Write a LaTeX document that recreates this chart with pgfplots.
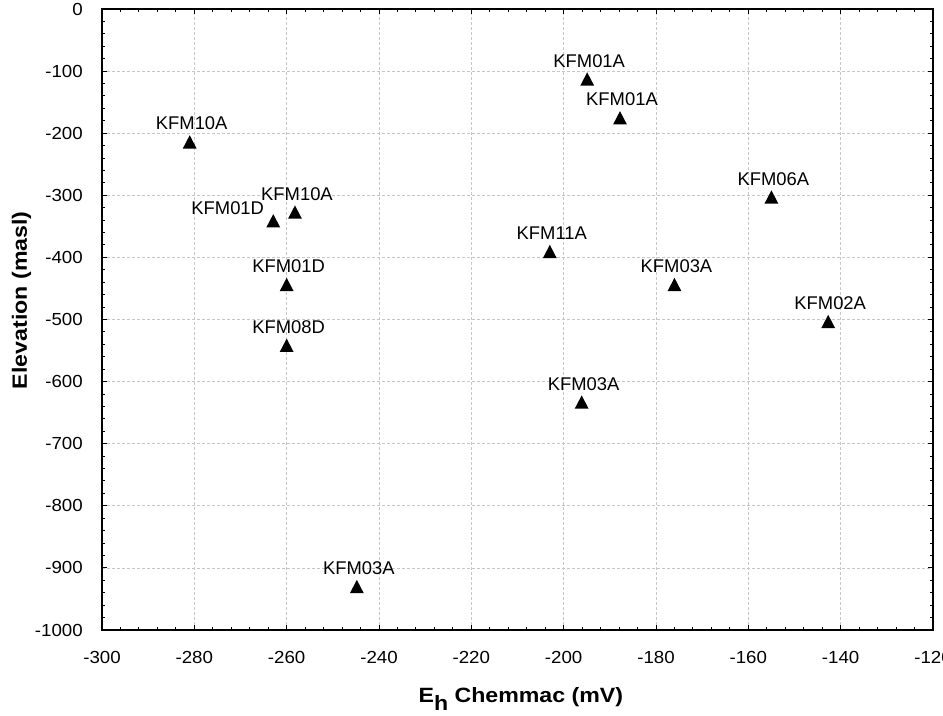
\documentclass[border=0pt]{standalone}
\usepackage{pgfplots}
\pgfplotsset{compat=1.18}
\usepackage{fontspec}
\setmainfont{Liberation Sans}
\newfontfamily\tickfont[FakeStretch=1.07]{Liberation Sans}
\newfontfamily\axlabfont[FakeStretch=1.12]{Liberation Sans}
\pgfdeclareplotmark{tri}{%
  \pgfpathmoveto{\pgfqpoint{0pt}{5.0pt}}%
  \pgfpathlineto{\pgfqpoint{5.2pt}{-5.0pt}}%
  \pgfpathlineto{\pgfqpoint{-5.2pt}{-5.0pt}}%
  \pgfpathclose
  \pgfusepathqfill}
\begin{document}
\begin{tikzpicture}
\begin{axis}[
  name=ax,
  scale only axis,
  width=623.25pt, height=465.75pt,
  xmin=-300, xmax=-120, ymin=-1000, ymax=0,
  xtick={-300,-280,...,-120},
  ytick={-1000,-900,...,0},
  minor x tick num=4, minor y tick num=4,
  tick align=inside,
  major tick length=3.75pt, minor tick length=2.25pt,
  every tick/.style={black, line width=0.75pt},
  axis line style={black, line width=1.1pt},
  grid=major,
  major grid style={gray!45, line width=0.6pt, dash pattern=on 2.25pt off 1.5pt},
  /pgf/number format/assume math mode=true,
  /pgf/number format/1000 sep={},
  tick label style={font=\tickfont\fontsize{13.1}{13.1}\selectfont, inner sep=0pt},
  yticklabel style={anchor=east, xshift=-14.25pt},
  xticklabel style={anchor=north, yshift=-15.75pt},
  xlabel={\axlabfont\bfseries E\raisebox{-6pt}{h} Chemmac (mV)},
  ylabel={\axlabfont\bfseries Elevation (masl)},
  xlabel style={at={(rel axis cs:0.504,0)}, anchor=base, yshift=-54pt, inner sep=0pt, font=\fontsize{15.5}{15.5}\selectfont},
  ylabel style={at={(rel axis cs:0,0.531)}, rotate=0, anchor=base, yshift=56.25pt, inner sep=0pt, font=\fontsize{15.5}{15.5}\selectfont},
]
\addplot[only marks, mark=tri, black,
  point meta=explicit symbolic,
  visualization depends on={value \thisrow{anchor} \as \myanchor},
  visualization depends on={\thisrow{dx} \as \mydx},
  visualization depends on={\thisrow{dy} \as \mydy},
  nodes near coords,
  every node near coord/.style={anchor=\myanchor, inner sep=0pt, xshift=\mydx pt, yshift=\mydy pt, font=\fontsize{13.8}{13.8}\selectfont, black},
] table[x=x, y=y, meta=label] {
x y label anchor dx dy
-281.0 -214.0 KFM10A south 1.5 8.6
-262.9 -341.0 KFM01D east -6.75 9.25
-258.2 -327.0 KFM10A south 1.5 8.6
-260.0 -443.6 KFM01D south 1.5 8.6
-260.0 -541.5 KFM08D south 1.5 8.6
-194.9 -112.7 KFM01A south 1.5 8.6
-187.8 -175.2 KFM01A south 1.5 8.6
-155.0 -302.7 KFM06A south 1.5 8.6
-142.7 -503.2 KFM02A south 1.5 8.6
-203.0 -390.5 KFM11A south 1.5 8.6
-176.0 -443.6 KFM03A south 1.5 8.6
-196.1 -632.9 KFM03A south 1.5 8.6
-244.8 -930.0 KFM03A south 1.5 8.6
};
\end{axis}
\pgfresetboundingbox
\useasboundingbox ([xshift=-76.5pt,yshift=-63.75pt]ax.south west) rectangle ([xshift=7.5pt,yshift=6.75pt]ax.north east);
\end{tikzpicture}
\end{document}
